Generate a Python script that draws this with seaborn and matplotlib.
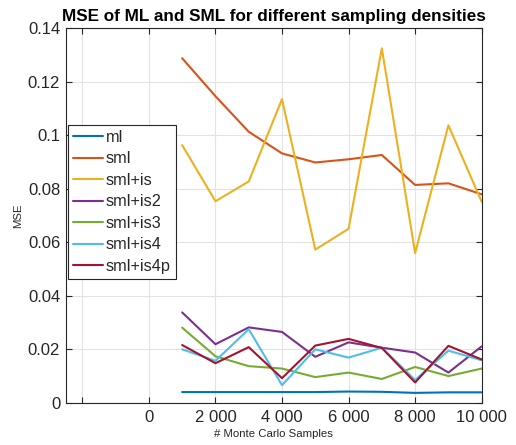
import numpy as np
import pandas as pd
import matplotlib
matplotlib.use("Agg")
import matplotlib.pyplot as plt
import seaborn as sns
from matplotlib.ticker import FuncFormatter

samples = [1000, 2000, 3000, 4000, 5000, 6000, 7000, 8000, 9000, 10000]
ml = [0.0039, 0.0039, 0.0039, 0.0039, 0.0039, 0.0041, 0.0040, 0.0036, 0.0038, 0.0038]
sml = [0.1288, 0.1146, 0.1013, 0.0932, 0.0898, 0.0910, 0.0926, 0.0814, 0.0820, 0.0779]
sml_is = [0.0963, 0.0753, 0.0827, 0.1135, 0.0572, 0.0650, 0.1325, 0.0559, 0.1037, 0.0751]
sml_is2 = [0.0337, 0.0218, 0.0281, 0.0264, 0.0171, 0.0225, 0.0205, 0.0187, 0.0112, 0.0210]
sml_is3 = [0.0280, 0.0173, 0.0136, 0.0127, 0.0095, 0.0112, 0.0088, 0.0133, 0.0099, 0.0127]
sml_is4 = [0.0199, 0.0156, 0.0274, 0.0065, 0.0199, 0.0168, 0.0205, 0.0084, 0.0194, 0.0158]
sml_is4p = [0.0215, 0.0147, 0.0207, 0.0091, 0.0213, 0.0238, 0.0204, 0.0075, 0.0212, 0.0161]

series_names = ["ml", "sml", "sml+is", "sml+is2", "sml+is3", "sml+is4", "sml+is4p"]
series_values = [ml, sml, sml_is, sml_is2, sml_is3, sml_is4, sml_is4p]
colors = ["#0072BD", "#D95319", "#EDB120", "#7E2F8E", "#77AC30", "#4DBEEE", "#A2142F"]

xticks = [-2000, 0, 2000, 4000, 6000, 8000, 10000]
xtick_labels = ["", "0", "2 000", "4 000", "6 000", "8 000", "10 000"]
yticks = [0, 0.02, 0.04, 0.06, 0.08, 0.1, 0.12, 0.14]

rows = []
for name, vals in zip(series_names, series_values):
    for x, v in zip(samples, vals):
        rows.append({"samples": x, "MSE": v, "method": name})
df = pd.DataFrame(rows)

sns.set_style("white")
plt.rcParams["font.family"] = ["Liberation Sans", "DejaVu Sans"]

fig = plt.figure(figsize=(5.16, 4.45), dpi=100)
ax = fig.add_axes([0.1273, 0.0955, 0.8062, 0.8409])

sns.lineplot(data=df, x="samples", y="MSE", hue="method", hue_order=series_names,
             palette=colors, linewidth=1.5, ax=ax, legend=True)

ax.set_xlim(-2500, 10000)
ax.set_ylim(0, 0.14)
ax.set_xticks(xticks)
ax.set_xticklabels(xtick_labels)
ax.set_yticks(yticks)
ax.yaxis.set_major_formatter(FuncFormatter(lambda v, p: "%g" % round(v, 4)))

ax.grid(True, color="#e3e3e3", linewidth=0.8)
ax.set_axisbelow(True)
for s in ax.spines.values():
    s.set_color("#262626")
    s.set_linewidth(0.8)
ax.tick_params(axis="both", direction="in", length=4, width=0.8, color="#262626",
               labelsize=12, labelcolor="#262626", top=True, right=True,
               bottom=True, left=True)
ax.tick_params(axis="x", pad=5.5)
ax.tick_params(axis="y", pad=4)

ax.set_xlabel("# Monte Carlo Samples", fontsize=8.2, color="#262626", labelpad=2.5)
ax.set_ylabel("MSE", fontsize=8.2, color="#262626", labelpad=3)
ax.set_title("MSE of ML and SML for different sampling densities",
             fontsize=12.3, fontweight="bold", color="black", pad=5)

handles, labels = ax.get_legend_handles_labels()
leg = ax.legend(handles, labels, loc="upper left", bbox_to_anchor=(0.006, 0.742),
                borderaxespad=0, fontsize=11.7, frameon=True, fancybox=False,
                edgecolor="#262626", framealpha=1, handlelength=1.85,
                handletextpad=0.18, labelspacing=0.4, borderpad=0.3)
leg.get_frame().set_linewidth(0.8)

fig.savefig("out.png", dpi=100)
